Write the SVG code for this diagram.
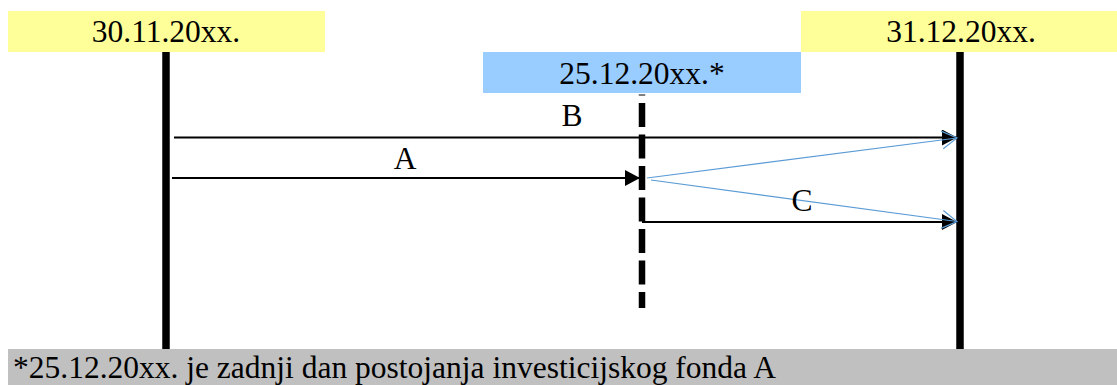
<svg xmlns="http://www.w3.org/2000/svg" width="1117" height="385" viewBox="0 0 1117 385">
<style>
.lbl{font-family:"Liberation Serif","Times New Roman",serif;font-size:31.5px;fill:#000}
.mid{text-anchor:middle}
.yel{fill:#ffff99}
.axis{stroke:#000;stroke-width:7.5;fill:none}
.blk{stroke:#000;stroke-width:2;fill:none}
.blu{stroke:#5b9bd5;stroke-width:1.2;fill:none}
</style>
<defs>
<marker id="ah" markerUnits="userSpaceOnUse" markerWidth="16" markerHeight="18" refX="15" refY="8" orient="auto" viewBox="0 0 16 18">
<path d="M0,0 L15,8 L0,16 z" fill="#000"/>
</marker>
<marker id="ab" markerUnits="userSpaceOnUse" markerWidth="17" markerHeight="20" refX="15.5" refY="9.5" orient="auto" viewBox="0 0 17 20">
<path d="M0.5,0.5 L15.5,9.5 L0.5,18.5" fill="none" stroke="#5b9bd5" stroke-width="1.2"/>
</marker>
</defs>
<rect width="1117" height="385" fill="#fff"/>
<g id="timeline-start">
<line class="axis" x1="166" y1="52" x2="166" y2="349"/>
</g>
<g id="timeline-end">
<line class="axis" x1="960" y1="52" x2="960" y2="349"/>
</g>
<g id="timeline-mid">
<line x1="642" y1="94.5" x2="642" y2="308" stroke="#000" stroke-width="6.5" stroke-dasharray="24 7.5" stroke-dashoffset="23"/>
</g>
<g id="date-start">
<rect class="yel" x="8" y="11" width="317" height="41"/>
<text class="lbl mid" x="166" y="41.5">30.11.20xx.</text>
</g>
<g id="date-end">
<rect class="yel" x="801" y="11" width="316" height="41"/>
<text class="lbl mid" x="961" y="41.5">31.12.20xx.</text>
</g>
<g id="date-mid">
<rect x="483" y="52" width="318" height="41" fill="#99ccff"/>
<text class="lbl mid" x="642" y="84">25.12.20xx.*</text>
</g>
<g id="connectors">
<line class="blk" x1="174" y1="137.5" x2="957" y2="137.5" marker-end="url(#ah)"/>
<line class="blk" x1="172" y1="178" x2="640" y2="178" marker-end="url(#ah)"/>
<path class="blk" d="M642,222 L957,222" marker-end="url(#ah)"/>
<line class="blu" x1="647" y1="178" x2="957" y2="138" marker-end="url(#ab)"/>
<line class="blu" x1="651" y1="180" x2="957" y2="221.5" marker-end="url(#ab)"/>
<text class="lbl mid" x="572" y="126">B</text>
<text class="lbl mid" x="405" y="169">A</text>
<text class="lbl mid" x="802" y="211">C</text>
</g>
<g id="footnote">
<rect x="8" y="349" width="1109" height="36" fill="#c0c0c0"/>
<text class="lbl" x="13" y="378">*25.12.20xx. je zadnji dan postojanja investicijskog fonda A</text>
</g>
</svg>
